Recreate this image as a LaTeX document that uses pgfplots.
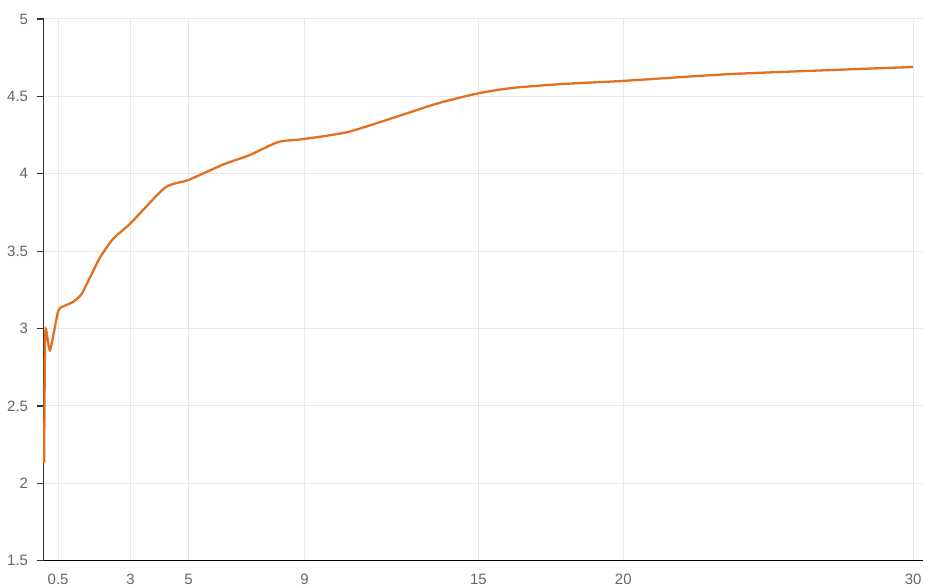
\documentclass[border=0pt]{standalone}
\usepackage{pgfplots}
\pgfplotsset{compat=1.18}
\usepackage{fontspec}
\setmainfont{Liberation Sans}
\definecolor{lineor}{HTML}{E2701F}
\definecolor{gridc}{HTML}{E8E8E8}
\definecolor{labc}{HTML}{666666}
\begin{document}
\begin{tikzpicture}[x=1pt,y=1pt]
\path[use as bounding box] (0,0) rectangle (940,588);
\begin{axis}[
  at={(43.6pt,27.3pt)}, anchor=south west,
  scale only axis, width=879.4pt, height=541.7pt,
  xmin=0, xmax=30.34, ymin=1.5, ymax=5,
  xtick={0.5,3,5,9,15,20,30},
  xticklabels={0.5,3,5,9,15,20,30},
  ytick={1.5,2,2.5,3,3.5,4,4.5,5},
  yticklabels={1.5,2,2.5,3,3.5,4,4.5,5},
  axis x line*=bottom, axis y line*=left,
  axis line style={-, line width=1.4pt, color=black!80},
  x axis line style={line width=1.2pt, color=black},
  grid=major, major grid style={gridc, line width=1pt},
  tick align=outside, major tick length=7pt,
  xtick style={draw=none},
  ytick style={line width=1.2pt, color=black!80},
  ticklabel style={font=\fontsize{15}{18}\selectfont, text=labc},
  /pgf/number format/assume math mode=true,
  xticklabel shift=3pt, yticklabel shift=5pt,
  clip=false,
]
\addplot[lineor, line width=2.3pt, smooth, tension=0.4] coordinates {
(0.02,2.13) (0.06,2.98) (0.22,2.86) (0.5,3.11) (0.7,3.145) (1.0,3.17)
(1.3,3.22) (1.6,3.33) (1.95,3.46) (2.4,3.58) (3,3.68) (4.19,3.91)
(5,3.96) (6.2,4.06) (7.1,4.12) (8.1,4.205) (9,4.225) (10.5,4.27)
(12.2,4.37) (13.6,4.455) (15,4.52) (16.2,4.555) (17.9,4.58) (20,4.60)
(23.8,4.645) (30,4.69)
};
\end{axis}
\end{tikzpicture}
\end{document}
